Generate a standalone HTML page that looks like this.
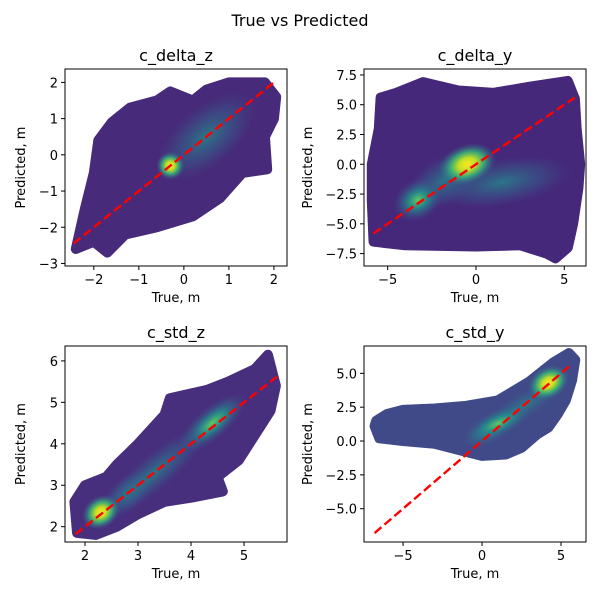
<!DOCTYPE html>
<html><head><meta charset="utf-8"><style>
body{margin:0;background:#fff}
svg{display:block;font-family:"DejaVu Sans","Liberation Sans",sans-serif}
</style></head><body>
<svg id="fig" width="600" height="600" viewBox="0 0 600 600">
<defs>
<radialGradient id="hotY"><stop offset="0" stop-color="#fde725"/><stop offset="0.3" stop-color="#c2df23"/><stop offset="0.6" stop-color="#35b779" stop-opacity="0.85"/><stop offset="1" stop-color="#31688e" stop-opacity="0"/></radialGradient>
<radialGradient id="hotG"><stop offset="0" stop-color="#5ec962"/><stop offset="0.4" stop-color="#21918c" stop-opacity="0.85"/><stop offset="1" stop-color="#3b528b" stop-opacity="0"/></radialGradient>
<radialGradient id="hotT"><stop offset="0" stop-color="#21918c" stop-opacity="0.75"/><stop offset="0.6" stop-color="#31688e" stop-opacity="0.4"/><stop offset="1" stop-color="#3b528b" stop-opacity="0"/></radialGradient>
</defs>
<text x="300" y="26" font-size="16" text-anchor="middle" fill="#000">True vs Predicted</text>
</svg>
<script>
// ---- data ----
const titles = ["c_delta_z","c_delta_y","c_std_z","c_std_y"];
const xDomains = [[-2.64,2.29],[-6.34,6.23],[1.623,5.81],[-7.47,6.58]];
const yDomains = [[-3.07,2.37],[-8.54,8.0],[1.63,6.36],[-7.46,7.02]];
const xTicks = [[-2,-1,0,1,2],[-5,0,5],[2,3,4,5],[-5,0,5]];
const yTicks = [[-3,-2,-1,0,1,2],[-7.5,-5,-2.5,0,2.5,5,7.5],[2,3,4,5,6],[-5,-2.5,0,2.5,5]];
const yTickLabels = [["−3","−2","−1","0","1","2"],["−7.5","−5.0","−2.5","0.0","2.5","5.0","7.5"],["2","3","4","5","6"],["−5.0","−2.5","0.0","2.5","5.0"]];
const xTickLabels = [["−2","−1","0","1","2"],["−5","0","5"],["2","3","4","5"],["−5","0","5"]];
const lineRange = [[-2.45,2.05],[-5.8,5.6],[1.82,5.62],[-6.8,5.7]];
const cloudX = [
 [-2.4,-2.2,-2.0,-1.9,-1.6,-1.2,-0.6,-0.3,0.2,0.5,1.0,1.8,2.05,2.0,1.8,1.85,1.3,0.8,0.2,-0.6,-1.3,-1.7,-2.0],
 [-5.8,-4,0,2.5,4,4.5,5.2,5.5,5.8,5.9,5.7,5.6,5.2,3,1,-1,-3,-4.5,-5.4,-5.5,-5.9,-5.9],
 [1.85,2.2,2.6,3.0,3.5,4.0,4.6,4.5,4.9,5.2,5.5,5.6,5.45,5.2,4.7,4.3,3.6,3.5,3.0,2.6,2.4,2.0,1.8],
 [-6.8,-6.5,-5,-3,-1,0,1.5,2.5,3.5,4.2,4.8,5.3,5.7,5.9,5.5,4.5,3,1,-1,-3,-5,-6,-6.7]
];
const cloudY = [
 [-2.6,-1.5,-0.5,0.4,0.9,1.3,1.5,1.75,1.5,1.8,2.0,2.0,1.6,1.0,0.5,-0.4,-0.5,-1.2,-1.7,-2.0,-2.2,-2.7,-2.4],
 [-6.5,-6.8,-6.9,-6.8,-7.5,-7.9,-7,-5,-2,0,3,5.5,7,6.5,6,6.2,6.9,6,5.6,3,0,-3],
 [1.85,1.8,2.0,2.3,2.6,2.7,2.85,3.2,3.6,4.2,4.8,5.4,6.15,5.8,5.5,5.3,5.1,4.7,4.0,3.5,3.2,3.0,2.6],
 [1.1,0.2,0,-0.2,-0.8,-1.1,-1,-0.5,0.5,1,2,3,4.5,6,6.5,5.8,4.4,3,2.6,2.4,2.3,2.0,1.5]
];
const cloudColor = ["#472a79","#45287a","#472f7d","#414a88"];
const hotX = [[-0.3,0.5],[-0.5,-3.3,1.5,-1.8],[2.3,3.3,4.4,2.8],[4.2,1.0,2.6,0.2]];
const hotY = [[-0.3,0.5],[0,-3,-1.5,-1.4],[2.35,3.3,4.5,2.8],[4.3,1.3,2.6,0.5]];
const hotKind = [["hotY","hotT"],["hotY","hotG","hotT","hotT"],["hotY","hotT","hotG","hotT"],["hotY","hotG","hotT","hotT"]];
// ---- layout ----
const boxes = [[65,69,287,266],[364,69,586,266],[65,346,287,542],[364,346,586,542]];
const hotR = [[[14,14],[60,30]],[[30,20],[26,20],[70,24],[40,24]],[[20,16],[70,18],[42,16],[30,16]],[[22,16],[38,14],[45,14],[25,12]]];
const hotRot = [[0,-40],[-20,-30,-10,-30],[-35,-40,-40,-40],[-30,-25,-30,-20]];
const svg = document.getElementById('fig');
const NS = 'http://www.w3.org/2000/svg';
function mk(t, a, p){const e=document.createElementNS(NS,t);for(const k in a)e.setAttribute(k,a[k]);(p||svg).appendChild(e);return e;}
titles.forEach((title,i)=>{
  const [L,T,R,B]=boxes[i];
  const sx=v=>L+(v-xDomains[i][0])/(xDomains[i][1]-xDomains[i][0])*(R-L);
  const sy=v=>B-(v-yDomains[i][0])/(yDomains[i][1]-yDomains[i][0])*(B-T);
  const g=mk('g',{});
  
  
  const cid='clip'+i;
  const cp=mk('clipPath',{id:cid},g);mk('rect',{x:L,y:T,width:R-L,height:B-T},cp);
  const plot=mk('g',{'clip-path':'url(#'+cid+')'},g);
  const pts=cloudX[i].map((x,k)=>sx(x)+','+sy(cloudY[i][k])).join(' ');
  const cloud=mk('polygon',{points:pts,fill:cloudColor[i],stroke:cloudColor[i],'stroke-width':10,'stroke-linejoin':'round'},plot);
  
  
  const order=hotX[i].map((_,k)=>k).reverse();
  order.forEach(k=>{
    const cx=sx(hotX[i][k]),cy=sy(hotY[i][k]);
    const e=mk('ellipse',{cx:cx,cy:cy,rx:hotR[i][k][0],ry:hotR[i][k][1],fill:'url(#'+hotKind[i][k]+')',transform:'rotate('+hotRot[i][k]+' '+cx+' '+cy+')'},plot);
    
    
  });
  const ln=mk('line',{x1:sx(lineRange[i][0]),y1:sy(lineRange[i][0]),x2:sx(lineRange[i][1]),y2:sy(lineRange[i][1]),stroke:'#ff0000','stroke-width':2.4,'stroke-dasharray':'9,4'},g);
  
  
  const fr=mk('rect',{x:L,y:T,width:R-L,height:B-T,fill:'none',stroke:'#000','stroke-width':1},g);
  
  
  xTicks[i].forEach((v,k)=>{
    const x=sx(v);mk('line',{x1:x,y1:B,x2:x,y2:B+4,stroke:'#000'},g);
    const t=mk('text',{x:x,y:B+18,'font-size':13,'text-anchor':'middle'},g);t.textContent=xTickLabels[i][k];
    
    
  });
  yTicks[i].forEach((v,k)=>{
    const y=sy(v);mk('line',{x1:L-4,y1:y,x2:L,y2:y,stroke:'#000'},g);
    const t=mk('text',{x:L-7,y:y+5,'font-size':13,'text-anchor':'end'},g);t.textContent=yTickLabels[i][k];
    
    
  });
  const tt=mk('text',{x:(L+R)/2,y:T-8,'font-size':16,'text-anchor':'middle'},g);tt.textContent=title;
  
  
  const xl=mk('text',{x:(L+R)/2,y:B+36,'font-size':13,'text-anchor':'middle'},g);xl.textContent='True, m';
  
  
  const yx=(i===1||i===3)?L-52:L-40;
  const yl=mk('text',{x:yx,y:(T+B)/2,'font-size':13,'text-anchor':'middle',transform:'rotate(-90 '+yx+' '+(T+B)/2+')'},g);yl.textContent='Predicted, m';
  
  
});
</script>
</body></html>
